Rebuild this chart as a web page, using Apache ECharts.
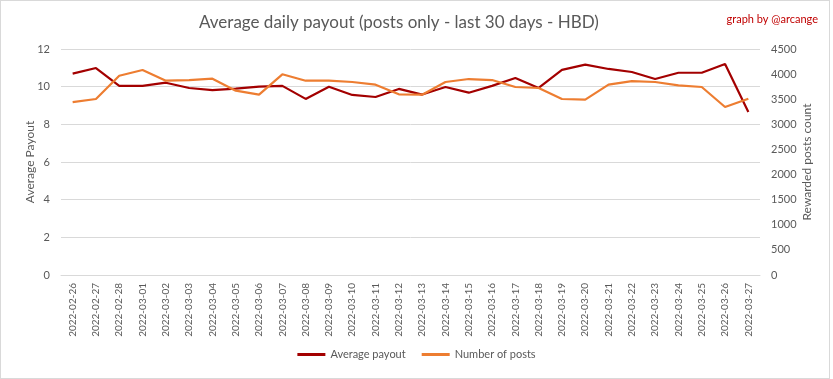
<!DOCTYPE html>
<html>
<head>
<meta charset="utf-8">
<script src="https://cdn.jsdelivr.net/npm/echarts@6/dist/echarts.min.js"></script>
<style>
html,body{margin:0;padding:0;background:#fff;}
#frame{position:absolute;left:0;top:0;width:828px;height:377px;border:1px solid #d9d9d9;}
#c{position:absolute;left:0;top:0;width:833px;height:379px;}
</style>
</head>
<body>
<div id="frame"></div>
<div id="c"></div>
<script>
const categories = ["2022-02-26","2022-02-27","2022-02-28","2022-03-01","2022-03-02","2022-03-03","2022-03-04","2022-03-05","2022-03-06","2022-03-07","2022-03-08","2022-03-09","2022-03-10","2022-03-11","2022-03-12","2022-03-13","2022-03-14","2022-03-15","2022-03-16","2022-03-17","2022-03-18","2022-03-19","2022-03-20","2022-03-21","2022-03-22","2022-03-23","2022-03-24","2022-03-25","2022-03-26","2022-03-27"];
const averagePayout = [10.69,10.99,10.04,10.04,10.21,9.93,9.82,9.90,10.00,10.04,9.35,10.00,9.56,9.45,9.88,9.58,9.98,9.68,10.04,10.46,9.93,10.89,11.17,10.94,10.78,10.41,10.74,10.74,11.20,8.66];
const numberOfPosts = [3444,3504,3968,4082,3869,3882,3909,3670,3590,3996,3869,3869,3843,3790,3597,3590,3843,3902,3882,3743,3723,3504,3491,3790,3862,3843,3776,3743,3345,3511];
const leftTicks = {min:0, max:12, interval:2};
const rightTicks = {min:0, max:4500, interval:500};

const FONT = 'Lato';
const GREY = '#595959';
const chart = echarts.init(document.getElementById('c'));
chart.setOption({
  animation:false,
  textStyle:{fontFamily:FONT},
  title:[
    {text:'Average daily payout (posts only - last 30 days - HBD)', left:194, top:9,
     textStyle:{fontFamily:FONT, fontSize:17, fontWeight:'normal', color:GREY}},
    {text:'graph by @arcange', right:10, top:9,
     textStyle:{fontFamily:FONT, fontSize:11, fontWeight:'normal', color:'#c00000'}}
  ],
  legend:{
    bottom:14, left:'center', itemGap:16, itemWidth:28, itemHeight:3, icon:'rect',
    textStyle:{fontFamily:FONT, fontSize:11, color:GREY},
    data:['Average payout','Number of posts']
  },
  grid:{left:61, right:73, top:49, bottom:104},
  xAxis:{
    type:'category', data:categories, boundaryGap:true,
    axisLine:{lineStyle:{color:'#d9d9d9'}}, axisTick:{show:false},
    axisLabel:{rotate:90, interval:0, fontSize:10, color:GREY, margin:8, fontFamily:FONT}
  },
  yAxis:[
    {type:'value', min:leftTicks.min, max:leftTicks.max, interval:leftTicks.interval,
     name:'Average Payout', nameLocation:'middle', nameGap:25, nameRotate:90, nameMoveOverlap:false,
     nameTextStyle:{fontFamily:FONT, fontSize:12, color:GREY},
     axisLine:{show:false}, axisTick:{show:false},
     axisLabel:{fontSize:11, color:GREY, margin:11, fontFamily:FONT},
     splitLine:{lineStyle:{color:'#d9d9d9'}}},
    {type:'value', min:rightTicks.min, max:rightTicks.max, interval:rightTicks.interval,
     name:'Rewarded posts count', nameLocation:'middle', nameGap:41, nameRotate:90, nameMoveOverlap:false,
     nameTextStyle:{fontFamily:FONT, fontSize:12, color:GREY},
     axisLine:{show:false}, axisTick:{show:false},
     axisLabel:{fontSize:11, color:GREY, margin:11, fontFamily:FONT, formatter:function(v){return String(v);}},
     splitLine:{show:false}}
  ],
  series:[
    {name:'Average payout', type:'line', yAxisIndex:0, data:averagePayout, showSymbol:false,
     lineStyle:{width:2.2, color:'#a30000'}, itemStyle:{color:'#a30000'}},
    {name:'Number of posts', type:'line', yAxisIndex:1, data:numberOfPosts, showSymbol:false,
     lineStyle:{width:2.2, color:'#ed7d31'}, itemStyle:{color:'#ed7d31'}}
  ]
});
</script>
</body>
</html>
